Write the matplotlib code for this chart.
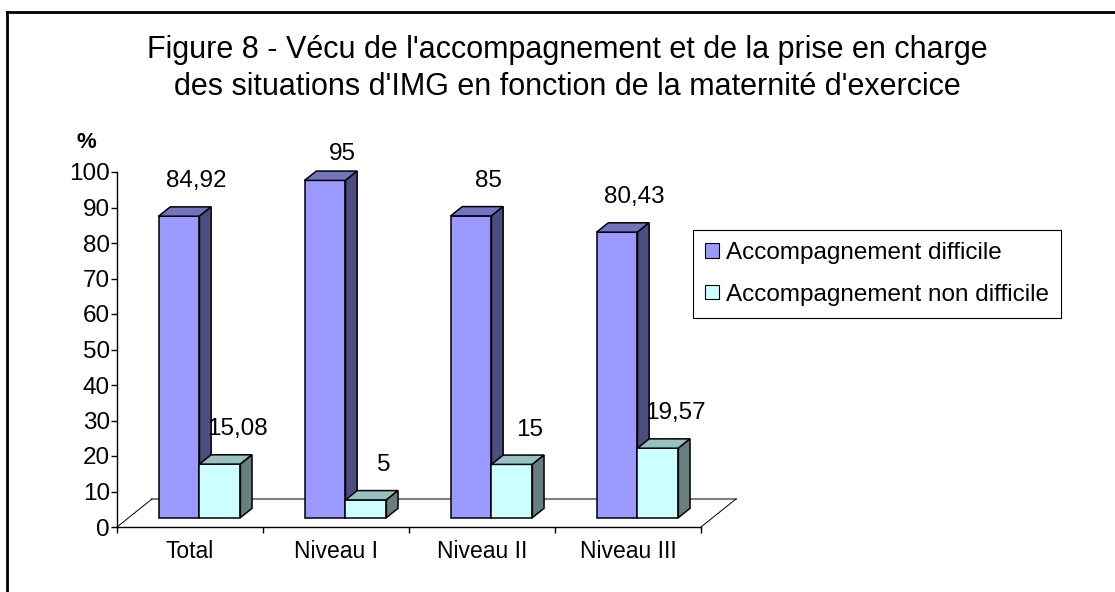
import matplotlib
matplotlib.use("Agg")
import matplotlib.pyplot as plt
from matplotlib.patches import Polygon, Patch
from matplotlib.lines import Line2D

plt.rcParams['font.family'] = ['Liberation Sans', 'DejaVu Sans']

# data
categories = ["Total", "Niveau I", "Niveau II", "Niveau III"]
difficile = [84.92, 95, 85, 80.43]
non_difficile = [15.08, 5, 15, 19.57]
series_names = ["Accompagnement difficile", "Accompagnement non difficile"]
title_lines = ["Figure 8 - Vécu de l'accompagnement et de la prise en charge",
               "des situations d'IMG en fonction de la maternité d'exercice"]
yticks = list(range(0, 101, 10))

# colours: front, top, side
purple = ("#9999ff", "#7373bf", "#4d4d80")
cyan = ("#ccffff", "#99c0c0", "#668080")

W, H = 1115, 592
PX_X, PX_Y = 146, 3.55        # pixels per category / per percent
DX, DY = 35 / PX_X, 28 / PX_Y  # full floor depth in data units
BW = 0.28                      # bar width

fig = plt.figure(figsize=(W / 100, H / 100), dpi=100)
ax = fig.add_axes([117 / W, 65 / H, 4.4 * PX_X / W, 110 * PX_Y / H])
ax.set_xlim(0, 4.4)
ax.set_ylim(0, 110)

for s in ("top", "right"):
    ax.spines[s].set_visible(False)
ax.spines["left"].set_bounds(0, 100)
ax.spines["bottom"].set_bounds(0, len(categories))
for s in ("left", "bottom"):
    ax.spines[s].set_linewidth(1.0)

ax.set_yticks(yticks)
ax.set_yticklabels([str(t) for t in yticks], fontsize=17.5)
ax.tick_params(axis="y", direction="out", length=4, width=1.0, pad=1)
ax.set_xticks(range(len(categories) + 1))
ax.set_xticklabels([""] * (len(categories) + 1))
ax.tick_params(axis="x", direction="out", length=4, width=1.0)
ax.set_xticks([i + 0.5 for i in range(len(categories))], minor=True)
ax.set_xticklabels(categories, minor=True, fontsize=16.5)
ax.tick_params(axis="x", which="minor", length=0, pad=9)

# floor outline
n = len(categories)
ax.plot([DX, n + DX], [DY, DY], color="#808080", lw=1.5, zorder=1, clip_on=False)
ax.plot([0, DX], [0, DY], color="black", lw=0.7, zorder=1, clip_on=False)
ax.plot([n, n + DX], [0, DY], color="black", lw=0.7, zorder=1, clip_on=False)

d, dy = DX / 3, DY / 3
base = DY / 3
for s, (vals, cols) in enumerate([(difficile, purple), (non_difficile, cyan)]):
    xs = [i + 0.205 + s * BW + d for i in range(n)]
    ax.bar(xs, vals, width=BW, bottom=base, align="edge", color=cols[0],
           edgecolor="black", lw=1.1, zorder=2 + s, clip_on=False)
    for x0, v in zip(xs, vals):
        top = base + v
        ax.add_patch(Polygon([(x0, top), (x0 + BW, top), (x0 + BW + d, top + dy),
                              (x0 + d, top + dy)], closed=True, fc=cols[1],
                             ec="black", lw=1.1, zorder=2 + s, clip_on=False))
        ax.add_patch(Polygon([(x0 + BW, base), (x0 + BW + d, base + dy),
                              (x0 + BW + d, top + dy), (x0 + BW, top)], closed=True,
                             fc=cols[2], ec="black", lw=1.1, zorder=2 + s, clip_on=False))
        ax.text(x0 + BW / 2 + 0.12, min(top + 9.8, 105), f"{v:g}".replace(".", ","),
                ha="center", va="center", fontsize=17.5, zorder=5)

# titles and axis unit
fig.text(567 / W, 1 - 50 / H, title_lines[0], ha="center", va="center", fontsize=22)
fig.text(567 / W, 1 - 87 / H, title_lines[1], ha="center", va="center", fontsize=22)
fig.text(86 / W, 1 - 142 / H, "%", ha="center", va="center", fontsize=16, weight="bold")

handles = [Patch(fc=purple[0], ec="black", lw=0.8), Patch(fc=cyan[0], ec="black", lw=0.8)]
leg = fig.legend(handles, series_names, loc="upper left",
                 bbox_to_anchor=(693 / W, 1 - 230 / H), frameon=True, fancybox=False,
                 edgecolor="black", framealpha=1, borderaxespad=0, fontsize=17.5,
                 handlelength=0.55, handleheight=0.55, handletextpad=0.3,
                 labelspacing=0.8, borderpad=0.5)
leg.get_frame().set_linewidth(0.8)

# outer frame (left and top visible)
fig.add_artist(Line2D([7 / W, 7 / W], [0, 1 - 12 / H], color="black", lw=2))
fig.add_artist(Line2D([7 / W, 1], [1 - 12 / H, 1 - 12 / H], color="black", lw=2))

fig.savefig("out.png", dpi=100)
